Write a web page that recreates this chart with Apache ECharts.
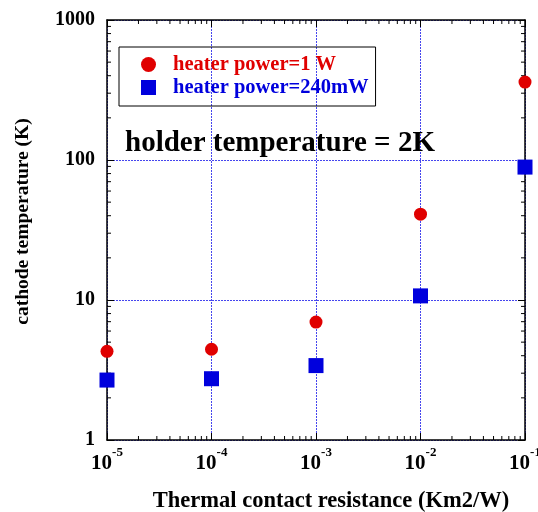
<!DOCTYPE html>
<html>
<head>
<meta charset="utf-8">
<style>
  html, body { margin: 0; padding: 0; background: #fff; }
  #main { width: 538px; height: 512px; }
</style>
</head>
<body>
<div id="main"></div>
<script src="https://cdn.jsdelivr.net/npm/echarts@6/dist/echarts.min.js"></script>
<script>
// data
var resistance = [1e-5, 1e-4, 1e-3, 1e-2, 1e-1];
var temp1W = [4.3, 4.45, 6.95, 41, 360];
var temp240mW = [2.68, 2.74, 3.4, 10.7, 89];
var xTicks = [1e-5, 1e-4, 1e-3, 1e-2, 1e-1];
var yTicks = [1, 10, 100, 1000];

var serif = '"Liberation Serif", "DejaVu Serif", serif';
var gridBlue = '#4646ee';

var chart = echarts.init(document.getElementById('main'));

function pairs(xs, ys) {
    var out = [];
    for (var i = 0; i < xs.length; i++) out.push([xs[i], ys[i]]);
    return out;
}

function expLabel(v) {
    var e = Math.round(Math.log(v) / Math.LN10);
    return '{b|10}{s|' + e + '}';
}

// minor ticks on all four sides, placed through the axes' own scale
function renderMinor(params, api) {
    var lines = [];
    var len = 4;
    var style = {stroke: '#000', lineWidth: 1};
    for (var d = 0; d < xTicks.length - 1; d++) {
        for (var m = 2; m <= 9; m++) {
            var b = api.coord([xTicks[d] * m, 1]);
            var t = api.coord([xTicks[d] * m, 1000]);
            lines.push({type: 'line', shape: {x1: b[0], y1: b[1], x2: b[0], y2: b[1] - len}, style: style});
            lines.push({type: 'line', shape: {x1: t[0], y1: t[1], x2: t[0], y2: t[1] + len}, style: style});
        }
    }
    for (var k = 0; k < yTicks.length - 1; k++) {
        for (var n = 2; n <= 9; n++) {
            var l = api.coord([1e-5, yTicks[k] * n]);
            var r = api.coord([1e-1, yTicks[k] * n]);
            lines.push({type: 'line', shape: {x1: l[0], y1: l[1], x2: l[0] + len, y2: l[1]}, style: style});
            lines.push({type: 'line', shape: {x1: r[0], y1: r[1], x2: r[0] - len, y2: r[1]}, style: style});
        }
    }
    return {type: 'group', children: lines};
}

var option = {
    animation: false,
    backgroundColor: '#fff',
    textStyle: {fontFamily: serif},
    title: {
        text: 'holder temperature = 2K',
        left: 120,
        top: 124,
        textStyle: {fontFamily: serif, fontWeight: 'bold', fontSize: 29, color: '#000'}
    },
    legend: {
        orient: 'vertical',
        left: 119,
        top: 47,
        padding: [7, 7, 8, 22],
        itemGap: 2,
        itemWidth: 15,
        itemHeight: 15,
        borderColor: '#000',
        borderWidth: 1,
        textStyle: {fontFamily: serif, fontWeight: 'bold', fontSize: 20.5, lineHeight: 21, padding: [0, 0, 0, 12]},
        data: [
            {name: 'heater power=1 W', icon: 'circle', textStyle: {color: '#e00000'}},
            {name: 'heater power=240mW', icon: 'rect', textStyle: {color: '#0000dd'}}
        ]
    },
    grid: {left: 107, right: 13, top: 20, bottom: 72, outerBoundsMode: 'none', containLabel: false},
    xAxis: [{
        type: 'log',
        logBase: 10,
        min: 1e-5,
        max: 1e-1,
        name: 'Thermal contact resistance (Km2/W)',
        nameLocation: 'middle',
        nameGap: 50,
        nameTextStyle: {fontFamily: serif, fontWeight: 'bold', fontSize: 22.5, color: '#000', padding: [0, 0, 0, 30]},
        axisLine: {lineStyle: {color: '#000', width: 1.5}},
        axisTick: {inside: true, length: 7, lineStyle: {color: '#000'}},
        splitLine: {show: true, lineStyle: {color: gridBlue, type: [2, 1], width: 1}},
        axisLabel: {
            margin: 6,
            formatter: expLabel,
            rich: {
                b: {fontFamily: serif, fontWeight: 'bold', fontSize: 21, color: '#000', padding: [7, 0, 0, 0]},
                s: {fontFamily: serif, fontWeight: 'bold', fontSize: 13, color: '#000', verticalAlign: 'top', padding: [0, 0, 7, 0]}
            }
        }
    }, {
        type: 'log',
        logBase: 10,
        min: 1e-5,
        max: 1e-1,
        position: 'top',
        axisLine: {lineStyle: {color: '#000', width: 1.5}},
        axisTick: {inside: true, length: 7, lineStyle: {color: '#000'}},
        axisLabel: {show: false},
        splitLine: {show: false}
    }],
    yAxis: [{
        type: 'log',
        logBase: 10,
        min: 1,
        max: 1000,
        name: 'cathode temperature (K)',
        nameLocation: 'middle',
        nameGap: 74,
        nameTextStyle: {fontFamily: serif, fontWeight: 'bold', fontSize: 19.5, color: '#000', padding: [0, 0, 0, 17]},
        axisLine: {lineStyle: {color: '#000', width: 1.5}},
        axisTick: {inside: true, length: 7, lineStyle: {color: '#000'}},
        splitLine: {show: true, lineStyle: {color: gridBlue, type: [2, 1], width: 1}},
        axisLabel: {
            margin: 12,
            formatter: function (v) { return String(v); },
            fontFamily: serif,
            fontWeight: 'bold',
            fontSize: 20,
            color: '#000'
        }
    }, {
        type: 'log',
        logBase: 10,
        min: 1,
        max: 1000,
        position: 'right',
        axisLine: {lineStyle: {color: '#000', width: 1.5}},
        axisTick: {inside: true, length: 7, lineStyle: {color: '#000'}},
        axisLabel: {show: false},
        splitLine: {show: false}
    }],
    series: [{
        type: 'custom',
        silent: true,
        clip: false,
        renderItem: renderMinor,
        data: [[1e-3, 10]],
        z: 1
    }, {
        name: 'heater power=1 W',
        type: 'scatter',
        symbol: 'circle',
        symbolSize: 13,
        itemStyle: {color: '#e00000', opacity: 1},
        data: pairs(resistance, temp1W),
        clip: false,
        z: 5
    }, {
        name: 'heater power=240mW',
        type: 'scatter',
        symbol: 'rect',
        symbolSize: 15,
        itemStyle: {color: '#0000dd', opacity: 1},
        data: pairs(resistance, temp240mW),
        clip: false,
        z: 5
    }]
};

chart.setOption(option);
</script>
</body>
</html>
